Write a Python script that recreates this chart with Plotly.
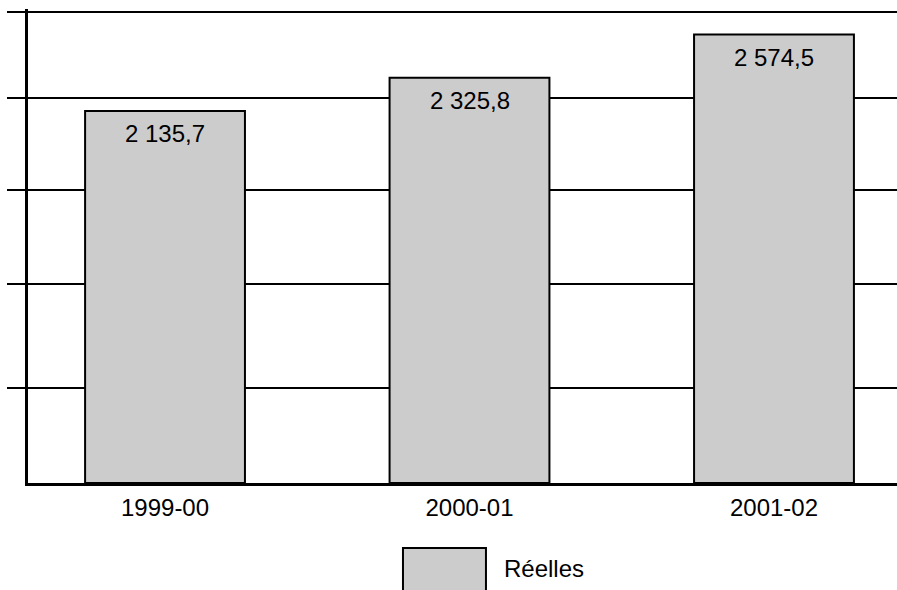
import plotly.graph_objects as go

# Dépenses par exercice
categories = ["1999-00", "2000-01", "2001-02"]
reelles = [2135.7, 2325.8, 2574.5]
series_name = "Réelles"

# Horizontal reference lines (value axis carries no labels)
grid_values = [545, 1142, 1682, 2210, 2704]

FONT = "Liberation Sans, Arial, sans-serif"
BAR_FILL = "#cccccc"


def fr_number(v):
    # French style: thin space for thousands, comma for decimals
    whole, dec = f"{v:.1f}".split(".")
    groups = []
    while len(whole) > 3:
        groups.insert(0, whole[-3:])
        whole = whole[:-3]
    groups.insert(0, whole)
    return " ".join(groups) + "," + dec


xs = list(range(len(categories)))

fig = go.Figure()
fig.add_trace(go.Bar(
    x=xs,
    y=reelles,
    name=series_name,
    width=0.525,
    marker=dict(color=BAR_FILL, line=dict(color="black", width=2)),
    showlegend=False,
))

# Value captions just under the top of each bar
for xi, v in zip(xs, reelles):
    fig.add_annotation(x=xi, y=v, xref="x", yref="y",
                       text=fr_number(v), showarrow=False,
                       yanchor="top", yshift=-7,
                       font=dict(family=FONT, size=24, color="black"))

# Legend drawn as a large swatch with its caption
fig.add_shape(type="rect", xref="paper", yref="paper",
              x0=0.4315, x1=0.527, y0=-0.25, y1=-0.137,
              fillcolor=BAR_FILL, line=dict(color="black", width=2))
fig.add_annotation(xref="paper", yref="paper", x=0.545, y=-0.18,
                   text=series_name, showarrow=False,
                   xanchor="left", yanchor="middle",
                   font=dict(family=FONT, size=24, color="black"))

fig.update_layout(
    width=897, height=590,
    margin=dict(l=28, r=0, t=9, b=107),
    paper_bgcolor="white", plot_bgcolor="white",
    font=dict(family=FONT, size=24, color="black"),
    bargap=0.475,
)
fig.update_xaxes(
    tickmode="array",
    tickvals=xs,
    ticktext=categories,
    range=[-0.45, 2.404],
    showline=True, linecolor="black", linewidth=3,
    showgrid=False, ticks="", ticklabelstandoff=1,
    tickfont=dict(family=FONT, size=24, color="black"),
)
fig.update_yaxes(
    range=[0, 2721],
    tickmode="array", tickvals=grid_values,
    showticklabels=False,
    showgrid=True, gridcolor="black", gridwidth=2,
    ticks="outside", ticklen=18, tickwidth=2, tickcolor="black",
    showline=True, linecolor="black", linewidth=3,
    zeroline=False,
)

fig.write_html("out.html")
